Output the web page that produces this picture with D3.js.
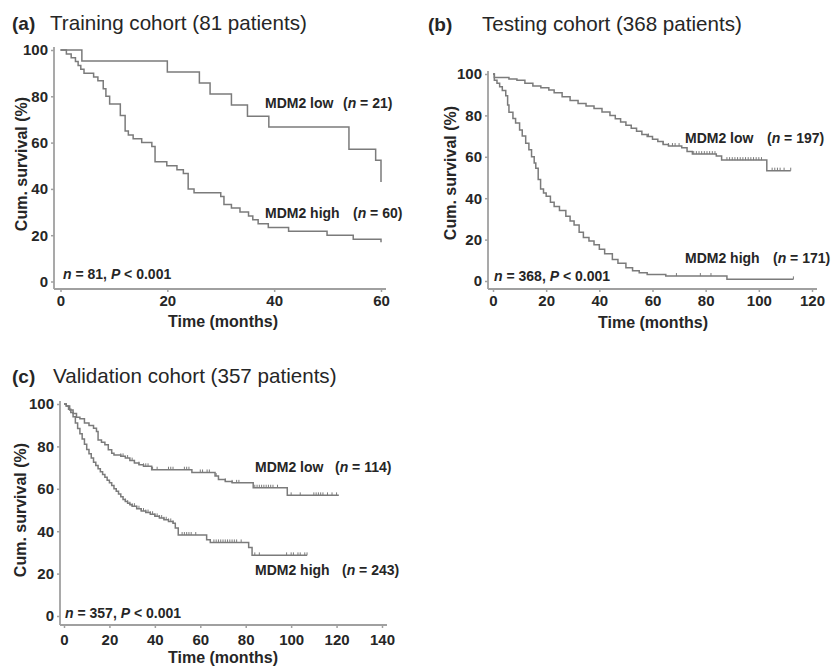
<!DOCTYPE html>
<html>
<head>
<meta charset="utf-8">
<script src="https://cdn.jsdelivr.net/npm/d3@7"></script>
<style>
body { margin: 0; background: #fff; }
</style>
</head>
<body>
<svg id="chart" width="832" height="668"></svg>
<script>
// ---- data (months, cumulative survival %) ----
var yTicks = [0, 20, 40, 60, 80, 100];
var aXTicks = [0, 20, 40, 60];
var bXTicks = [0, 20, 40, 60, 80, 100, 120];
var cXTicks = [0, 20, 40, 60, 80, 100, 120, 140];

// (a) training cohort
var aLowTime = [0, 4, 20, 26, 28, 32, 35, 39, 54, 59, 60];
var aLowSurv = [100, 95.2, 90.5, 85.7, 81.0, 76.2, 71.4, 66.7, 57.1, 52.4, 43];
var aHighTime = [0, 1.1, 2, 2.8, 3.3, 3.8, 4.4, 6.2, 7, 8, 8.5, 9.2, 11.2, 12.1, 12.7, 13.6, 15.2, 17.1, 17.7,
                 19.9, 21.8, 23, 23.9, 25, 30, 30.6, 32, 33.6, 35.2, 36, 37, 38.9, 42.7, 49.9, 54.8, 60];
var aHighSurv = [100, 98.3, 96.7, 95, 93.3, 91.7, 90, 88.3, 86.7, 83.3, 80, 76.7, 71.7, 65, 63.3, 61.7, 60, 58.3, 51.7,
                 50, 48.3, 46.7, 40, 38.3, 36.7, 33.3, 31.7, 30, 28.3, 26.7, 25, 23.3, 21.7, 20, 18.3, 17];

// (b) testing cohort
var bLowTime = [0, 0.5, 6, 9, 12, 15, 18, 21, 23, 26, 29, 32, 35, 38, 41, 44, 46, 48, 50, 52, 54, 56, 58, 60,
                62, 64, 66, 71, 73, 75, 84, 86, 103, 112];
var bLowSurv = [100, 98.3, 97.6, 97, 95.5, 94.2, 93.4, 92.3, 90.9, 89, 87.2, 85.8, 84.5, 83.3, 81.7, 80, 78.4, 76.8,
                75.3, 73.8, 72.3, 70.8, 69.8, 68.5, 67.4, 66, 65.2, 64.4, 62.6, 61.3, 60.4, 58.4, 53.3, 53.3];
var bLowCensor = [58.5, 60, 64, 66, 67.5, 68.5, 70, 75.5, 76.5, 77.5, 78.5, 79.5, 80.5, 81.5, 82.5, 83.5, 88, 89,
                  90, 91, 92, 93, 94, 95, 96, 97, 98, 99, 100, 101, 105, 106, 107, 108, 109.5, 112];
var bHighTime = [0, 0.5, 1.5, 2.5, 3.5, 4.8, 5.5, 6, 7.5, 8.5, 10, 11, 12.3, 13.5, 14.5, 15.5, 16.1, 17, 17.9, 19,
                 20, 21.6, 23, 25, 27.4, 29, 30.5, 32.4, 34, 36.1, 38, 40, 42, 44.9, 47, 50, 52.5, 55, 58, 65, 88, 113];
var bHighSurv = [100, 97, 95.5, 93.9, 92, 89.5, 85, 81.5, 78.5, 76.3, 73, 70, 66.5, 63.4, 60, 57, 54.5, 49, 44.5, 42.5,
                 41, 38, 36, 34, 31.3, 29, 27, 23.5, 21, 19.3, 17.5, 15.3, 13.2, 10.4, 8.6, 6.4, 5, 4, 3.2, 2.4, 0.8, 0.8];
var bHighCensor = [69, 78, 82, 113];

// (c) validation cohort
var cLowTime = [0, 1, 2.5, 4, 5.5, 7, 9, 11, 13, 14.3, 15, 16.5, 18, 19.5, 21, 22, 25, 27, 29, 31, 33, 35, 38.6,
                56.3, 65, 66.5, 68, 71, 74, 83.3, 98.3, 121];
var cLowSurv = [100, 99, 97.2, 95.5, 93.8, 93, 91, 89.8, 88.6, 87, 83, 82, 80.8, 78.4, 76.8, 76, 75.3, 74.5, 73.3,
                72.2, 71.4, 70.6, 69, 67.7, 67.7, 66, 64.4, 63.5, 62.8, 60.5, 56.9, 56.9];
var cLowCensor = [25, 26, 28, 30, 31, 33, 35, 36, 37, 39, 41, 46, 47, 48, 53, 54, 55, 60, 61, 63, 64, 67, 71, 74,
                  76, 77, 84, 85, 86, 87, 88, 89, 90, 91, 92, 94, 100, 104, 110, 111, 112, 113, 114, 116, 118, 120];
var cHighTime = [0, 1, 2, 3, 4, 5, 6, 7, 8, 9, 10, 11, 12, 13, 14, 15, 16, 17, 18, 19, 20, 21, 22, 23, 24, 25, 26,
                 27, 28, 29, 30, 32, 34, 36, 38, 40, 42, 44, 46, 48, 49, 50.3, 62.8, 64.4, 81.3, 82.8, 107];
var cHighSurv = [100, 99, 97.5, 96, 94, 91, 88.5, 86, 83.5, 81, 78.5, 76.5, 74.5, 72.5, 71, 69.5, 68, 66.8, 65.5, 64,
                 62.8, 61.5, 60, 58.8, 57.5, 56.3, 55, 54, 53.2, 52.5, 51.8, 50.6, 49.5, 48.8, 48, 47, 46.2, 45.4,
                 44.6, 43.7, 41.5, 38.2, 36, 34.7, 32.3, 28.6, 28.6];
var cHighCensor = [27, 28, 29, 30, 31, 32, 33, 34, 35, 36, 37, 38, 39, 40, 41, 42, 43, 44, 45, 46, 47, 48, 52, 53,
                   54, 55, 56, 58, 66, 67, 68, 69, 70, 71, 72, 73, 74, 75, 76, 78, 84, 86, 98, 100, 101, 103, 104, 106, 107];

// ---- drawing ----
var svg = d3.select("#chart");
var font = "'Liberation Sans', Arial, Helvetica, sans-serif";
var ink = "#262626";
var curveCol = "#7b7b7b";
var axisCol = "#a0a0a0";

function survAt(times, surv, t) {
  var i = d3.bisectRight(times, t) - 1;
  return surv[Math.max(0, i)];
}

var panels = [
  { tag: "(a)", title: "Training cohort (81 patients)", tagX: 12, titleX: 50, titleY: 30,
    xTicks: aXTicks, xMax: 60, x0: 60.5, x1: 381, y0: 281.5, y100: 50, axisX: 54, axisY: 289, xPad: 3,
    yLabX: 21, yLabY: 164, xLabX: 223, xLabY: 327,
    curves: [{ t: aLowTime, s: aLowSurv, c: [] }, { t: aHighTime, s: aHighSurv, c: [] }],
    labels: [{ x: 265, nx: 343, y: 108, name: "MDM2 low", n: "21" },
             { x: 265, nx: 353, y: 218, name: "MDM2 high", n: "60" }],
    stat: { x: 63, y: 279, n: "81" } },
  { tag: "(b)", title: "Testing cohort (368 patients)", tagX: 428, titleX: 482, titleY: 31,
    xTicks: bXTicks, xMax: 120, x0: 493, x1: 812, y0: 281, y100: 74, axisX: 488, axisY: 289, xPad: 3,
    yLabX: 450, yLabY: 173, xLabX: 653, xLabY: 328,
    curves: [{ t: bLowTime, s: bLowSurv, c: bLowCensor }, { t: bHighTime, s: bHighSurv, c: bHighCensor }],
    labels: [{ x: 685, nx: 767, y: 143, name: "MDM2 low", n: "197" },
             { x: 685, nx: 773, y: 263, name: "MDM2 high", n: "171" }],
    stat: { x: 494, y: 281, n: "368" } },
  { tag: "(c)", title: "Validation cohort (357 patients)", tagX: 12, titleX: 53, titleY: 383,
    xTicks: cXTicks, xMax: 140, x0: 64, x1: 382, y0: 616, y100: 404, axisX: 60, axisY: 625, xPad: 6,
    yLabX: 20, yLabY: 510, xLabX: 223, xLabY: 663,
    curves: [{ t: cLowTime, s: cLowSurv, c: cLowCensor }, { t: cHighTime, s: cHighSurv, c: cHighCensor }],
    labels: [{ x: 255, nx: 335, y: 472, name: "MDM2 low", n: "114" },
             { x: 255, nx: 342, y: 575, name: "MDM2 high", n: "243" }],
    stat: { x: 65, y: 618, n: "357" } }
];

panels.forEach(function(p) {
  var x = d3.scaleLinear().domain([0, p.xMax]).range([p.x0, p.x1]);
  var y = d3.scaleLinear().domain([0, 100]).range([p.y0, p.y100]);
  var g = svg.append("g").attr("font-family", font).attr("fill", ink);

  // title
  g.append("text").attr("x", p.tagX).attr("y", p.titleY)
    .attr("font-size", 19).attr("font-weight", "bold").text(p.tag);
  g.append("text").attr("x", p.titleX).attr("y", p.titleY)
    .attr("font-size", 20.6).text(p.title);

  // axis frame (SPSS style: x axis sits below the 0 line)
  g.append("line").attr("x1", p.axisX).attr("x2", p.axisX)
    .attr("y1", p.y100 - 3).attr("y2", p.axisY)
    .attr("stroke", axisCol).attr("stroke-width", 1.8);
  g.append("line").attr("x1", p.axisX).attr("x2", p.x1 + 5)
    .attr("y1", p.axisY).attr("y2", p.axisY)
    .attr("stroke", axisCol).attr("stroke-width", 1.8);

  var yAxis = d3.axisLeft(y).tickValues(yTicks).tickSize(3).tickPadding(3);
  var gy = g.append("g").attr("transform", "translate(" + p.axisX + ",0)").call(yAxis);
  var xAxis = d3.axisBottom(x).tickValues(p.xTicks).tickSize(3).tickPadding(p.xPad);
  var gx = g.append("g").attr("transform", "translate(0," + p.axisY + ")").call(xAxis);
  [gy, gx].forEach(function(ax) {
    ax.select(".domain").remove();
    ax.selectAll(".tick line").attr("stroke", axisCol).attr("stroke-width", 1.5);
    ax.selectAll(".tick text").attr("fill", ink).attr("font-family", font)
      .attr("font-size", 15).attr("font-weight", "bold");
  });

  // axis titles
  g.append("text")
    .attr("transform", "translate(" + p.yLabX + "," + p.yLabY + ") rotate(-90)")
    .attr("text-anchor", "middle").attr("dy", "0.35em")
    .attr("font-size", 16).attr("font-weight", "bold").text("Cum. survival (%)");
  g.append("text").attr("x", p.xLabX).attr("y", p.xLabY)
    .attr("text-anchor", "middle").attr("font-size", 16).attr("font-weight", "bold")
    .text("Time (months)");

  // survival curves
  var line = d3.line()
    .x(function(d) { return x(d[0]); })
    .y(function(d) { return y(d[1]); })
    .curve(d3.curveStepAfter);
  p.curves.forEach(function(c) {
    g.append("path")
      .datum(d3.zip(c.t, c.s))
      .attr("d", line)
      .attr("fill", "none").attr("stroke", curveCol).attr("stroke-width", 1.5);
    g.selectAll(null).data(c.c).enter().append("line")
      .attr("x1", function(t) { return x(t); })
      .attr("x2", function(t) { return x(t); })
      .attr("y1", function(t) { return y(survAt(c.t, c.s, t)) - 3; })
      .attr("y2", function(t) { return y(survAt(c.t, c.s, t)); })
      .attr("stroke", curveCol).attr("stroke-width", 1);
  });

  // group labels
  p.labels.forEach(function(l) {
    g.append("text").attr("x", l.x).attr("y", l.y)
      .attr("font-size", 14).attr("font-weight", "bold").text(l.name);
    var t = g.append("text").attr("x", l.nx).attr("y", l.y)
      .attr("font-size", 14).attr("font-weight", "bold");
    t.append("tspan").text("(");
    t.append("tspan").attr("font-style", "italic").text("n");
    t.append("tspan").text(" = " + l.n + ")");
  });

  var s = g.append("text").attr("x", p.stat.x).attr("y", p.stat.y)
    .attr("font-size", 14).attr("font-weight", "bold");
  s.append("tspan").attr("font-style", "italic").text("n");
  s.append("tspan").text(" = " + p.stat.n + ", ");
  s.append("tspan").attr("font-style", "italic").text("P");
  s.append("tspan").text(" < 0.001");
});
</script>
</body>
</html>
